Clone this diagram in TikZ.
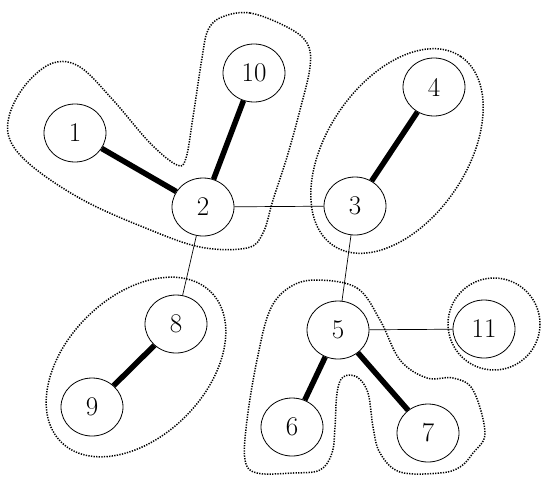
\documentclass[tikz,border=0pt]{standalone}
\usetikzlibrary{shapes.geometric}
\begin{document}
\begin{tikzpicture}[
	x=1pt,y=-1pt,
	font=\fontsize{27}{30}\selectfont,
	vtx/.style={ellipse,draw,line width=0.8pt,minimum width=62pt,minimum height=58pt,inner sep=0pt},
	heavy/.style={line width=5.5pt},
	light/.style={line width=0.7pt},
	hull/.style={dash pattern=on 1.3pt off 1.3pt,line width=1.5pt},
	]
\useasboundingbox (0,0) rectangle (548,488);
% vertices
\node [vtx] (v1) at (75,133) {1};
\node [vtx] (v10) at (254,73) {10};
\node [vtx] (v2) at (203,207) {2};
\node [vtx] (v4) at (434,87) {4};
\node [vtx] (v3) at (355,206) {3};
\node [vtx] (v8) at (176,324) {8};
\node [vtx] (v9) at (92,407) {9};
\node [vtx] (v5) at (338,330) {5};
\node [vtx] (v11) at (484,329) {11};
\node [vtx] (v6) at (292,427) {6};
\node [vtx] (v7) at (428,433) {7};
% edges
\draw [heavy] (v1) -- (v2);
\draw [heavy] (v10) -- (v2);
\draw [heavy] (v4) -- (v3);
\draw [heavy] (v8) -- (v9);
\draw [heavy] (v5) -- (v6);
\draw [heavy] (v5) -- (v7);
\draw [light] (v2) -- (v3);
\draw [light] (v2) -- (v8);
\draw [light] (v3) -- (v5);
\draw [light] (v5) -- (v11);
% groups
\draw [hull] plot [smooth cycle,tension=0.6] coordinates {
	(222,17) (250,13) (287,27) (307,43) (310,67) (300,110) (287,157)
	(273,200) (263,233) (247,248) (200,247) (143,227) (83,200) (33,167)
	(10,140) (10,113) (27,83) (53,63) (80,67) (113,100) (150,143)
	(177,165) (186,158) (193,117) (202,58) (208,30)};
\draw [hull] (397,151) ellipse [x radius=114,y radius=70,rotate=56];
\draw [hull] (136,367) ellipse [x radius=106,y radius=70,rotate=45];
\draw [hull] (494,324) circle [radius=46];
\draw [hull] plot [smooth cycle,tension=0.6] coordinates {
	(317,280) (357,288) (380,320) (400,360) (427,378) (453,378) (473,390)
	(485,433) (473,453) (460,467) (440,473) (400,472) (380,453) (373,427)
	(368,393) (357,377) (343,377) (337,393) (335,427) (332,453) (320,470)
	(293,473) (257,473) (245,460) (247,420) (257,360) (270,310) (290,287)};
\end{tikzpicture}
\end{document}
